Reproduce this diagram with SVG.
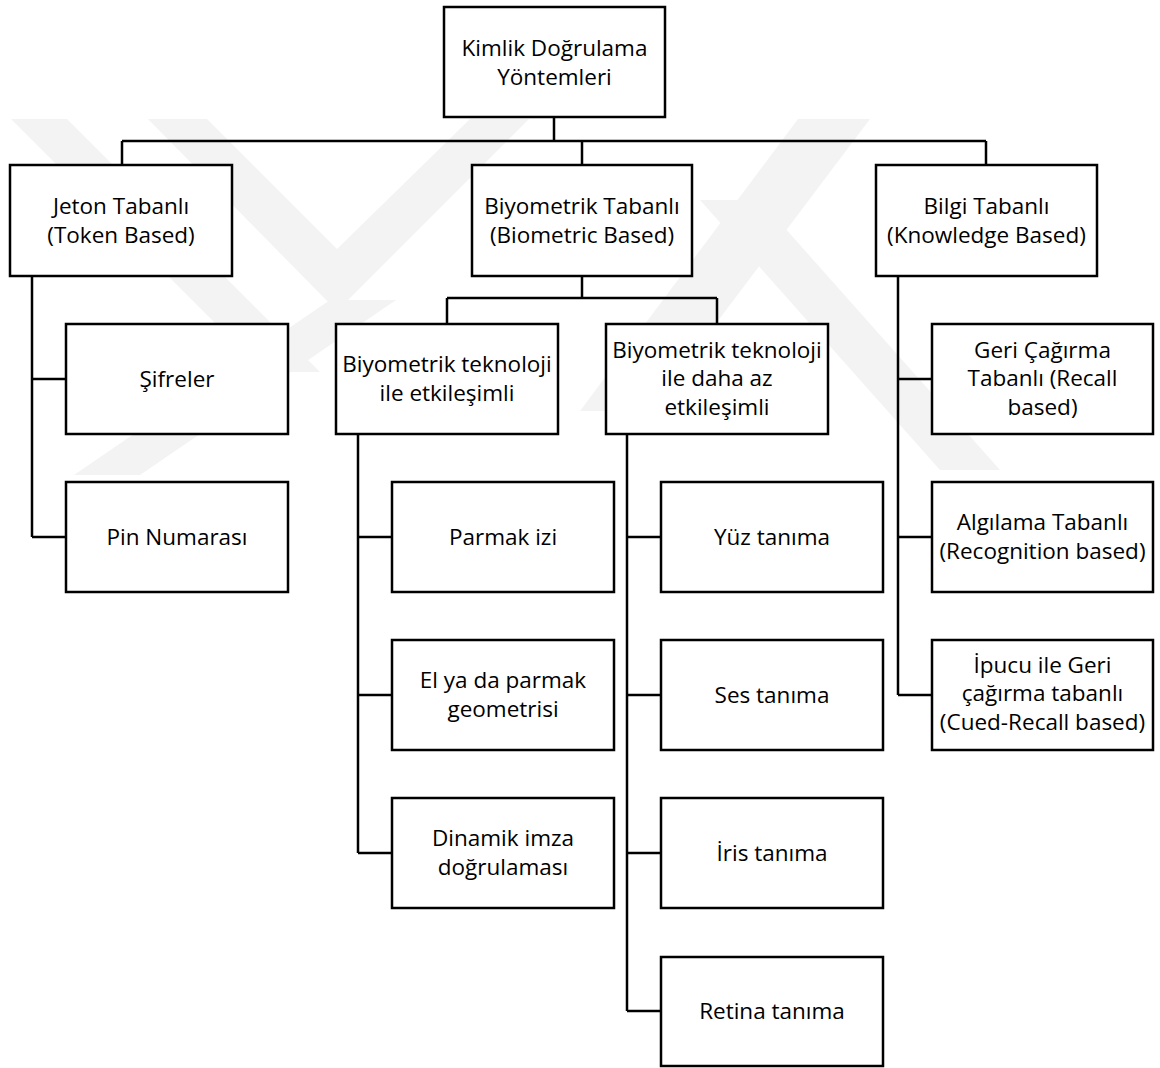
<svg xmlns="http://www.w3.org/2000/svg" width="1160" height="1068" viewBox="0 0 1160 1068">
<style>
.box{fill:#fff;stroke:#000;stroke-width:2.5}
.wire{fill:none;stroke:#000;stroke-width:2.5}
.wm{fill:#f3f3f3}
text{font-family:"Open Sans","Noto Sans",sans-serif;font-size:22.5px;fill:#000;text-anchor:middle}
</style>
<rect width="1160" height="1068" fill="#fff"/>
<g id="watermark">
<polygon class="wm" points="11,119 67,119 320,372 264,372"/>
<polygon class="wm" points="148,119 207,119 337,249 470,119 529,119 337,311"/>
<polygon class="wm" points="74,475 140,475 396,300 330,300"/>
<polygon class="wm" points="798,119 870,119 650,411 580,411"/>
<polygon class="wm" points="700,200 760,200 1000,470 940,470"/>
</g>
<g id="connectors">
<path class="wire" d="M554,117V141M122,141H986M122,141V165M582,141V165M986,141V165"/>
<path class="wire" d="M582,276V298M447,298H717M447,298V324M717,298V324"/>
<path class="wire" d="M32,276V537M32,379H66M32,537H66"/>
<path class="wire" d="M358,434V853M358,537H392M358,695H392M358,853H392"/>
<path class="wire" d="M627,434V1011M627,537H661M627,695H661M627,853H661M627,1011H661"/>
<path class="wire" d="M898,276V695M898,379H932M898,537H932M898,695H932"/>
</g>
<g id="root"><rect class="box" x="444" y="7" width="221" height="110"/><text x="554.5" y="55.5">Kimlik Doğrulama</text><text x="554.5" y="84.5">Yöntemleri</text></g>
<g id="jeton"><rect class="box" x="10" y="165" width="222" height="111"/><text x="121" y="214">Jeton Tabanlı</text><text x="121" y="243">(Token Based)</text></g>
<g id="biyometrik"><rect class="box" x="472" y="165" width="220" height="111"/><text x="582" y="214">Biyometrik Tabanlı</text><text x="582" y="243">(Biometric Based)</text></g>
<g id="bilgi"><rect class="box" x="876" y="165" width="221" height="111"/><text x="986.5" y="214">Bilgi Tabanlı</text><text x="986.5" y="243">(Knowledge Based)</text></g>
<g id="sifreler"><rect class="box" x="66" y="324" width="222" height="110"/><text x="177" y="386.5">Şifreler</text></g>
<g id="pin"><rect class="box" x="66" y="482" width="222" height="110"/><text x="177" y="544.5">Pin Numarası</text></g>
<g id="etkilesimli"><rect class="box" x="336" y="324" width="222" height="110"/><text x="447" y="371.5">Biyometrik teknoloji</text><text x="447" y="400.5">ile etkileşimli</text></g>
<g id="azetkilesimli"><rect class="box" x="606" y="324" width="222" height="110"/><text x="717" y="357.5">Biyometrik teknoloji</text><text x="717" y="386">ile daha az</text><text x="717" y="414.5">etkileşimli</text></g>
<g id="geri"><rect class="box" x="932" y="324" width="221" height="110"/><text x="1042.5" y="357.5">Geri Çağırma</text><text x="1042.5" y="386">Tabanlı (Recall</text><text x="1042.5" y="414.5">based)</text></g>
<g id="parmak"><rect class="box" x="392" y="482" width="222" height="110"/><text x="503" y="544.5">Parmak izi</text></g>
<g id="yuz"><rect class="box" x="661" y="482" width="222" height="110"/><text x="772" y="544.5">Yüz tanıma</text></g>
<g id="algilama"><rect class="box" x="932" y="482" width="221" height="110"/><text x="1042.5" y="530">Algılama Tabanlı</text><text x="1042.5" y="559">(Recognition based)</text></g>
<g id="el"><rect class="box" x="392" y="640" width="222" height="110"/><text x="503" y="688">El ya da parmak</text><text x="503" y="717">geometrisi</text></g>
<g id="ses"><rect class="box" x="661" y="640" width="222" height="110"/><text x="772" y="702.5">Ses tanıma</text></g>
<g id="ipucu"><rect class="box" x="932" y="640" width="221" height="110"/><text x="1042.5" y="672.5">İpucu ile Geri</text><text x="1042.5" y="701">çağırma tabanlı</text><text x="1042.5" y="729.5">(Cued-Recall based)</text></g>
<g id="dinamik"><rect class="box" x="392" y="798" width="222" height="110"/><text x="503" y="846">Dinamik imza</text><text x="503" y="875">doğrulaması</text></g>
<g id="iris"><rect class="box" x="661" y="798" width="222" height="110"/><text x="772" y="860.5">İris tanıma</text></g>
<g id="retina"><rect class="box" x="661" y="957" width="222" height="109"/><text x="772" y="1019">Retina tanıma</text></g>
</svg>
